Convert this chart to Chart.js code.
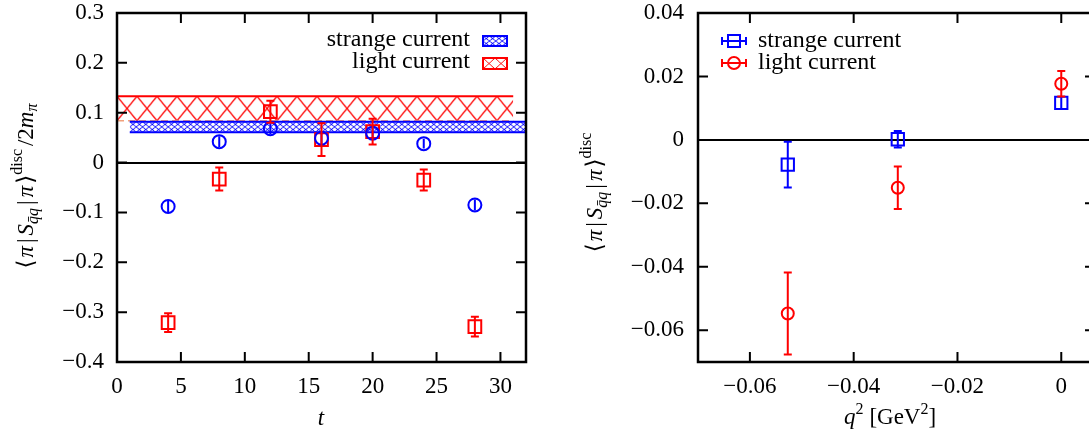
<!DOCTYPE html>
<html>
<head>
<meta charset="utf-8">
<script src="https://cdn.jsdelivr.net/npm/chart.js@4.4.0/dist/chart.umd.min.js"></script>
<style>
  html, body { margin: 0; padding: 0; background: #fff; overflow: hidden; width: 1089px; height: 436px; }
  #left { position: absolute; left: 0; top: 0; }
  #right { position: absolute; left: 560px; top: 0; }
</style>
</head>
<body>
<canvas id="left" width="560" height="436"></canvas>
<canvas id="right" width="560" height="436"></canvas>
<script>
// left panel: matrix element vs t
const tValues = [4, 8, 12, 16, 20, 24, 28];
const strangeT = [-0.088, 0.042, 0.068, 0.049, 0.059, 0.038, -0.085];
const strangeTErr = [0.011, 0.011, 0.011, 0.012, 0.012, 0.010, 0.011];
const lightT = [-0.321, -0.033, 0.102, 0.046, 0.062, -0.035, -0.329];
const lightTErr = [0.019, 0.023, 0.022, 0.033, 0.026, 0.021, 0.020];
const strangeBand = [0.061, 0.082];   // lower, upper
const strangeBandT = [1, 32];
const lightBand = [0.084, 0.133];
const lightBandT = [0, 31];
const tTicks = [0, 5, 10, 15, 20, 25, 30];
const leftYTicks = [-0.4, -0.3, -0.2, -0.1, 0, 0.1, 0.2, 0.3];

// right panel: matrix element vs q^2
const q2Values = [-0.0527, -0.0315, 0];
const strangeQ = [-0.0078, 0.0002, 0.0117];
const strangeQErr = [0.0072, 0.0026, 0.0018];
const lightQ = [-0.0547, -0.0151, 0.0177];
const lightQErr = [0.0129, 0.0067, 0.0040];
const q2Ticks = [-0.06, -0.04, -0.02, 0];
const rightYTicks = [-0.06, -0.04, -0.02, 0, 0.02, 0.04];

const labels = ['strange current', 'light current'];

const BLUE = '#0000ff';
const RED = '#ff0000';
const FONT = '"Liberation Serif", "DejaVu Serif", serif';
const R23 = '23px ' + FONT, I23 = 'italic 23px ' + FONT;
const R24 = '24px ' + FONT;
const R16 = '16px ' + FONT, I16 = 'italic 16px ' + FONT;

function fmt(v) {
  if (Math.abs(v) < 1e-12) return '0';
  return (v < 0 ? '\u2212' : '') + String(Math.abs(v));
}

function hatch(color, w, h, lw) {
  const c = document.createElement('canvas');
  c.width = w; c.height = h;
  const g = c.getContext('2d');
  g.strokeStyle = color;
  g.lineWidth = lw;
  g.beginPath();
  g.moveTo(0, 0); g.lineTo(w, h);
  g.moveTo(w, 0); g.lineTo(0, h);
  g.stroke();
  return g.createPattern(c, 'repeat');
}
const redPattern = hatch(RED, 20, 24, 1.3);
const bluePattern = hatch(BLUE, 8, 8, 1.1);

function drawRich(ctx, segs, cx, cy, rotate) {
  ctx.save();
  ctx.translate(cx, cy);
  if (rotate) ctx.rotate(-Math.PI / 2);
  ctx.fillStyle = '#000';
  ctx.textBaseline = 'alphabetic';
  ctx.textAlign = 'left';
  let total = 0;
  const widths = segs.map(s => {
    ctx.font = s.f;
    const w = ctx.measureText(s.t).width + (s.g || 0);
    total += w;
    return w;
  });
  let x = -total / 2;
  segs.forEach((s, i) => {
    ctx.font = s.f;
    ctx.fillText(s.t, x, s.dy || 0);
    x += widths[i];
  });
  ctx.restore();
}

// border + inward ticks on all four sides
const framePlugin = {
  id: 'frame',
  afterDraw(chart) {
    const { ctx, chartArea: a } = chart;
    const xs = chart.scales.x, ys = chart.scales.y;
    ctx.save();
    ctx.strokeStyle = '#000';
    ctx.lineWidth = 2;
    ctx.beginPath();
    xs.ticks.forEach(t => {
      const px = xs.getPixelForValue(t.value);
      ctx.moveTo(px, a.bottom); ctx.lineTo(px, a.bottom - 10);
      ctx.moveTo(px, a.top); ctx.lineTo(px, a.top + 10);
    });
    ys.ticks.forEach(t => {
      const py = ys.getPixelForValue(t.value);
      ctx.moveTo(a.left, py); ctx.lineTo(a.left + 10, py);
      ctx.moveTo(a.right, py); ctx.lineTo(a.right - 10, py);
    });
    ctx.stroke();
    ctx.lineWidth = 2.5;
    ctx.strokeRect(a.left, a.top, a.right - a.left, a.bottom - a.top);
    ctx.restore();
  }
};

// vertical error bars from dataset.err
const errorBarPlugin = {
  id: 'errorBars',
  afterDatasetsDraw(chart) {
    const ctx = chart.ctx, ys = chart.scales.y;
    chart.data.datasets.forEach((ds, i) => {
      if (!ds.err) return;
      const meta = chart.getDatasetMeta(i);
      ctx.save();
      ctx.strokeStyle = ds.borderColor;
      ctx.lineWidth = 2;
      ctx.beginPath();
      meta.data.forEach((pt, j) => {
        const v = ds.data[j].y, e = ds.err[j];
        const top = ys.getPixelForValue(v + e), bot = ys.getPixelForValue(v - e);
        ctx.moveTo(pt.x, top); ctx.lineTo(pt.x, bot);
        if (pt.y - top > ds.markerHalf) {
          ctx.moveTo(pt.x - 4, top); ctx.lineTo(pt.x + 4, top);
          ctx.moveTo(pt.x - 4, bot); ctx.lineTo(pt.x + 4, bot);
        }
      });
      ctx.stroke();
      ctx.restore();
    });
  }
};

// keep hatch patterns anchored to the band edges
const patternPlugin = {
  id: 'bandPatterns',
  beforeDatasetsDraw(chart) {
    const ys = chart.scales.y, xs = chart.scales.x;
    if (!chart.options.plugins.bandPatterns.on) return;
    const rTop = ys.getPixelForValue(lightBand[1]), rBot = ys.getPixelForValue(lightBand[0]);
    redPattern.setTransform(new DOMMatrix().translate(xs.getPixelForValue(lightBandT[0]), rTop).scale(1, (rBot - rTop) / 24));
    const bTop = ys.getPixelForValue(strangeBand[1]), bBot = ys.getPixelForValue(strangeBand[0]);
    bluePattern.setTransform(new DOMMatrix().translate(xs.getPixelForValue(strangeBandT[0]), bTop).scale(0.8, (bBot - bTop) / 16));
  }
};

const titlePlugin = {
  id: 'richTitles',
  afterDraw(chart) {
    (chart.options.plugins.richTitles.items || []).forEach(it => drawRich(chart.ctx, it.segs, it.x, it.y, it.rotate));
  }
};

const yTitleBase = [
  { t: '\u27E8', f: R23, g: 2 },
  { t: '\u03C0', f: I23, g: 3 },
  { t: '|', f: R23, g: 3 },
  { t: 'S', f: I23 },
  { t: 'q\u0304q', f: I16, dy: 5, g: 3 },
  { t: '|', f: R23, g: 3 },
  { t: '\u03C0', f: I23, g: 2 },
  { t: '\u27E9', f: R23 },
  { t: 'disc', f: R16, dy: -11, g: 3 }
];
const yTitleLeft = yTitleBase.concat([
  { t: '/2', f: R23 },
  { t: 'm', f: I23 },
  { t: '\u03C0', f: I16, dy: 4 }
]);

const leftLegendPlugin = {
  id: 'bandLegend',
  afterDraw(chart) {
    const ctx = chart.ctx;
    const rows = [
      { text: labels[0], pat: bluePattern, col: BLUE, base: 46, box: [483, 36, 24, 10], sx: 0.8, sy: 10 / 16 },
      { text: labels[1], pat: redPattern, col: RED, base: 68, box: [483, 58, 24, 11], sx: 0.6, sy: 11 / 24 }
    ];
    ctx.save();
    rows.forEach(r => {
      ctx.font = R24;
      ctx.fillStyle = '#000';
      ctx.textAlign = 'right';
      ctx.textBaseline = 'alphabetic';
      ctx.fillText(r.text, 470, r.base);
      const [bx, by, bw, bh] = r.box;
      r.pat.setTransform(new DOMMatrix().translate(bx, by).scale(r.sx, r.sy));
      ctx.fillStyle = r.pat;
      ctx.fillRect(bx, by, bw, bh);
      ctx.strokeStyle = r.col;
      ctx.lineWidth = 2;
      ctx.strokeRect(bx, by, bw, bh);
    });
    ctx.restore();
  }
};

const rightLegendPlugin = {
  id: 'pointLegend',
  afterDraw(chart) {
    const ctx = chart.ctx;
    const rows = [
      { text: labels[0], col: BLUE, cy: 41, base: 47, shape: 'rect' },
      { text: labels[1], col: RED, cy: 63, base: 69, shape: 'circle' }
    ];
    ctx.save();
    rows.forEach(r => {
      ctx.strokeStyle = r.col;
      ctx.lineWidth = 2;
      ctx.beginPath();
      ctx.moveTo(162, r.cy); ctx.lineTo(186, r.cy);
      ctx.moveTo(162, r.cy - 4); ctx.lineTo(162, r.cy + 4);
      ctx.moveTo(186, r.cy - 4); ctx.lineTo(186, r.cy + 4);
      ctx.stroke();
      ctx.beginPath();
      if (r.shape === 'rect') ctx.rect(174 - 6, r.cy - 6, 12, 12);
      else ctx.arc(174, r.cy, 6, 0, Math.PI * 2);
      ctx.stroke();
      ctx.font = R24;
      ctx.fillStyle = '#000';
      ctx.textAlign = 'left';
      ctx.textBaseline = 'alphabetic';
      ctx.fillText(r.text, 198, r.base);
    });
    ctx.restore();
  }
};

function zeroGrid(c) {
  return c.tick && Math.abs(c.tick.value) < 1e-12 ? '#000' : 'rgba(0,0,0,0)';
}

function axis(min, max, tickVals, fit, pad) {
  return {
    type: 'linear', min, max,
    afterBuildTicks: s => { s.ticks = tickVals.map(v => ({ value: v })); },
    afterFit: s => {
      fit(s);
      s.paddingTop = 0; s.paddingBottom = 0; s.paddingLeft = 0; s.paddingRight = 0;
    },
    border: { display: false },
    ticks: { font: { family: FONT, size: 23 }, color: '#000', padding: pad, callback: fmt, autoSkip: false, maxRotation: 0 }
  };
}

const common = {
  responsive: false,
  animation: false,
  devicePixelRatio: 1,
  events: []
};

const leftX = axis(0, 32, tTicks, s => { s.height = 74; }, 3);
leftX.grid = { display: false };
const leftY = axis(-0.4, 0.3, leftYTicks, s => { s.width = 117; }, 13);
leftY.grid = { display: true, drawTicks: false, color: zeroGrid, lineWidth: 2 };

new Chart(document.getElementById('left'), {
  type: 'scatter',
  data: {
    datasets: [
      { label: labels[0], data: tValues.map((t, i) => ({ x: t, y: strangeT[i] })), err: strangeTErr, markerHalf: 6.5,
        pointStyle: 'circle', pointRadius: 6.5, borderColor: BLUE, backgroundColor: 'rgba(0,0,0,0)', pointBorderWidth: 2, order: 0 },
      { label: labels[1], data: tValues.map((t, i) => ({ x: t, y: lightT[i] })), err: lightTErr, markerHalf: 6.4,
        pointStyle: 'rect', pointRadius: 9, borderColor: RED, backgroundColor: 'rgba(0,0,0,0)', pointBorderWidth: 2, order: 1 },
      { type: 'line', showLine: true, data: lightBandT.map(t => ({ x: t, y: lightBand[1] })),
        borderColor: RED, borderWidth: 2, pointRadius: 0, fill: false, order: 6 },
      { type: 'line', showLine: true, data: lightBandT.map(t => ({ x: t, y: lightBand[0] })),
        borderColor: 'rgba(240,150,110,0.9)', borderWidth: 1.5, borderDash: [7, 4], pointRadius: 0,
        fill: '-1', backgroundColor: redPattern, order: 5 },
      { type: 'line', showLine: true, data: strangeBandT.map(t => ({ x: t, y: strangeBand[1] })),
        borderColor: BLUE, borderWidth: 2, pointRadius: 0, fill: false, order: 4 },
      { type: 'line', showLine: true, data: strangeBandT.map(t => ({ x: t, y: strangeBand[0] })),
        borderColor: BLUE, borderWidth: 2, pointRadius: 0, fill: '-1', backgroundColor: bluePattern, order: 3 }
    ]
  },
  options: Object.assign({}, common, {
    layout: { padding: { left: 0, right: 34, top: 13, bottom: 0 } },
    scales: { x: leftX, y: leftY },
    plugins: {
      legend: { display: false },
      tooltip: { enabled: false },
      bandPatterns: { on: true },
      richTitles: { items: [
        { segs: yTitleLeft, x: 33, y: 186, rotate: true },
        { segs: [{ t: 't', f: I23 }], x: 321, y: 425 }
      ] }
    }
  }),
  plugins: [patternPlugin, errorBarPlugin, framePlugin, titlePlugin, leftLegendPlugin]
});

const rightX = axis(-0.07, 0.0065, q2Ticks, s => { s.height = 74; }, 3);
rightX.grid = { display: false };
const rightY = axis(-0.07, 0.04, rightYTicks, s => { s.width = 138; }, 14);
rightY.grid = { display: true, drawTicks: false, color: zeroGrid, lineWidth: 2 };

new Chart(document.getElementById('right'), {
  type: 'scatter',
  data: {
    datasets: [
      { label: labels[0], data: q2Values.map((q, i) => ({ x: q, y: strangeQ[i] })), err: strangeQErr, markerHalf: 6.2,
        pointStyle: 'rect', pointRadius: 8.7, borderColor: BLUE, backgroundColor: 'rgba(0,0,0,0)', pointBorderWidth: 2, order: 1 },
      { label: labels[1], data: q2Values.map((q, i) => ({ x: q, y: lightQ[i] })), err: lightQErr, markerHalf: 6,
        pointStyle: 'circle', pointRadius: 6, borderColor: RED, backgroundColor: 'rgba(0,0,0,0)', pointBorderWidth: 2, order: 0 }
    ]
  },
  options: Object.assign({}, common, {
    layout: { padding: { left: 0, right: 25, top: 13, bottom: 0 } },
    scales: { x: rightX, y: rightY },
    plugins: {
      legend: { display: false },
      tooltip: { enabled: false },
      bandPatterns: { on: false },
      richTitles: { items: [
        { segs: yTitleBase, x: 42, y: 191, rotate: true },
        { segs: [
          { t: 'q', f: I23 }, { t: '2', f: R16, dy: -10, g: 6 },
          { t: '[GeV', f: R23 }, { t: '2', f: R16, dy: -10 }, { t: ']', f: R23 }
        ], x: 330, y: 424 }
      ] }
    }
  }),
  plugins: [patternPlugin, errorBarPlugin, framePlugin, titlePlugin, rightLegendPlugin]
});
</script>
</body>
</html>
